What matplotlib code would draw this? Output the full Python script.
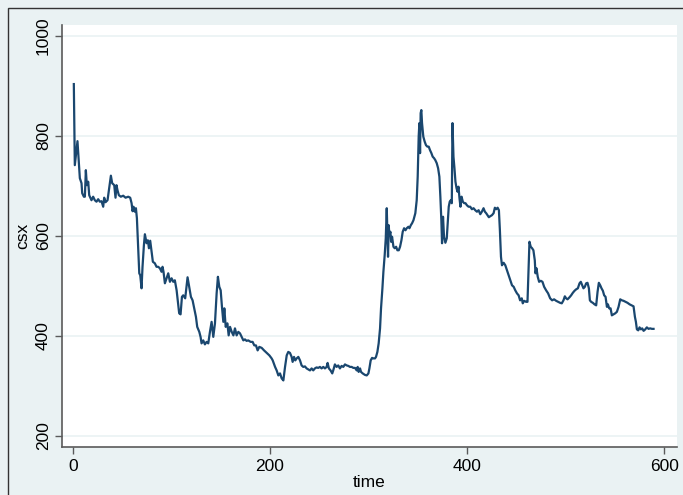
import numpy as np
import matplotlib.pyplot as plt
from matplotlib.patches import Rectangle

# values (time, csx)
time = [1, 2, 4.7, 7.1, 8.8, 9.5, 11.2, 12.2, 13.2, 14.2, 15.6, 16.6, 18.9, 20.6, 22.3, 24,
        25.7, 27.4, 29.1, 30.8, 31.8, 33.2, 35.2, 36.9, 38.6, 39.9, 42, 43.3, 44.3, 45.3,
        46.7, 48.7, 51.1, 53.5, 56.2, 58.2, 59.6, 60.6, 61.6, 62.9, 64, 65, 66.3, 67.4,
        68.4, 69.7, 70.7, 72.1, 73.1, 74.8, 76.1, 77.2, 78.5, 79.9, 81.2, 83.2, 84.9, 86.6,
        88.3, 90, 91, 92, 93.4, 95.1, 96.8, 98.5, 100.2, 101.9, 103.5, 105.3, 107.9, 109.3,
        110.7, 112, 114, 116.4, 118.1, 119.8, 121.5, 123.2, 124.9, 126.2, 128.3, 129.6,
        130.6, 132.3, 134, 135.7, 137.4, 139.1, 140.8, 142.5, 144.2, 145.9, 147.2, 148.6,
        150, 151.3, 152.7, 153.7, 155.1, 156.8, 158.1, 159.5, 161.2, 162.9, 164.5, 166.2,
        167.9, 169.6, 171.3, 173, 174.6, 176.3, 178, 180.4, 182.4, 184.1, 185.8, 187.5,
        189.2, 191.6, 194, 196.7, 199.4, 201.7, 202.8, 205.2, 206.8, 208.5, 210.2, 211.9,
        213.6, 215.3, 217, 218.6, 220.3, 222, 223, 224.4, 225.7, 227.1, 228.8, 230.5, 232.1,
        233.8, 235.5, 237.2, 238.9, 240.6, 242.3, 243.9, 245.6, 247.3, 249, 250.7, 252.4,
        254.1, 255.8, 257.5, 258.5, 259.8, 261.5, 263.2, 264.2, 265.9, 267.6, 269.3, 271,
        272.7, 274.4, 276.1, 277.8, 279.5, 281.2, 282.9, 284.6, 286.3, 288, 289, 290, 291.4,
        292.4, 294.1, 296.4, 298.2, 299.9, 300.9, 302.2, 303.6, 304.9, 306.6, 307.6, 309,
        310.3, 311.7, 312.7, 314.1, 315.1, 316.4, 317.5, 318.5, 319.2, 319.8, 320.5, 321.2,
        322.2, 322.9, 323.9, 325.3, 326.6, 328, 329.3, 330.7, 332, 333.4, 334.7, 336.1,
        337.5, 338.8, 340.5, 341.5, 342.9, 344.2, 345.6, 347.5, 348.9, 349.9, 350.9, 351.6,
        352.3, 352.9, 353.6, 354.3, 355.6, 357, 358.3, 359.7, 361.1, 362.4, 363.8, 365.1,
        366.5, 367.8, 369.2, 370.6, 371.9, 372.9, 373.9, 374.6, 375.6, 376.6, 378, 379.4,
        380.4, 381.4, 382.4, 383.5, 384.5, 385.2, 386.2, 387.2, 388.2, 389.3, 390.3, 391.3,
        392.3, 393.3, 394.4, 395.7, 397.1, 398.4, 399.8, 401.5, 403.2, 404.9, 406.6, 408.3,
        410, 411.7, 413.4, 415, 416.7, 418.1, 419.4, 420.8, 422.1, 423.5, 425.2, 426.9,
        428.2, 429.6, 431, 432.3, 433.3, 434.4, 435.4, 437.1, 438.8, 440.5, 442.2, 443.9,
        445.6, 447.3, 448.9, 450.6, 452.3, 453.8, 455.5, 456.5, 457.9, 459.9, 461.3, 462.3,
        463.3, 464.6, 466, 467.3, 468.7, 469.4, 470.4, 471.7, 473.1, 474.8, 476.5, 478.2,
        480.2, 482.2, 484.3, 486.3, 488.3, 490.4, 492.4, 494.4, 496.1, 497.8, 499.2, 500.5,
        501.9, 503.9, 505.6, 507.3, 509, 510.7, 512.4, 514.1, 515.4, 516.8, 518.1, 519.5,
        520.8, 522.2, 523.6, 524.6, 525.9, 527.6, 529.3, 531, 532.4, 533.7, 535.1, 536.4,
        537.8, 539.1, 540.5, 541.9, 542.9, 544.2, 545.6, 546.9, 548.6, 550.3, 552, 553.7,
        555.4, 557.1, 558.8, 560.8, 562.8, 564.9, 566.9, 568.9, 570.3, 571.3, 572.3, 573.7,
        575, 576.4, 577.7, 579.1, 580.8, 582.4, 584.1, 585.8, 587.5, 589.2]
csx = [903, 741, 789, 715, 705, 685, 678, 678, 731, 701, 708, 681, 671, 678, 671, 668,
       673, 668, 669, 658, 676, 667, 671, 695, 720, 705, 701, 676, 701, 691,
       681, 678, 680, 676, 678, 676, 665, 649, 658, 648, 655, 635, 575, 525,
       521, 495, 538, 581, 603, 585, 591, 575, 590, 568, 548, 545, 538, 538,
       535, 528, 538, 528, 505, 515, 525, 508, 515, 508, 511, 491, 445, 443,
       478, 481, 475, 517, 498, 478, 471, 455, 438, 418, 408, 398,
       385, 391, 383, 388, 385, 408, 428, 398, 425, 485, 518, 498,
       491, 458, 428, 455, 418, 425, 401, 418, 408, 401, 415, 401,
       408, 405, 398, 391, 393, 390, 391, 388, 388, 381, 381, 371,
       378, 376, 371, 366, 361, 355, 351, 338, 331, 321, 325, 315,
       311, 338, 361, 368, 366, 358, 348, 358, 351, 355, 358, 351, 341,
       338, 339, 335, 333, 331, 335, 331, 335, 337, 336, 338, 335,
       338, 335, 338, 346, 335, 331, 325, 331, 343, 338, 341, 335,
       340, 338, 343, 341, 340, 338, 338, 336, 336, 331, 338, 328, 335,
       328, 325, 322, 321, 325, 335, 351, 356, 355, 355, 358, 368,
       385, 415, 455, 495, 528, 561, 595, 655, 601, 558, 621, 601,
       608, 588, 598, 578, 575, 578, 571, 571, 578, 591, 608, 615,
       611, 615, 618, 615, 621, 625, 631, 645, 671, 718, 798, 825,
       765, 845, 851, 825, 798, 788, 781, 778, 778, 771, 765, 758,
       755, 751, 745, 735, 718, 678, 631, 585, 638, 598, 586, 595,
       625, 658, 668, 671, 665, 825, 758, 735, 708, 695, 688, 698,
       675, 658, 678, 668, 665, 665, 661, 658, 658, 653, 655, 651,
       648, 651, 643, 648, 655, 648, 645, 641, 637, 639, 641, 645,
       656, 653, 656, 651, 611, 558, 541, 546, 541, 531, 521, 511,
       501, 498, 491, 485, 481, 471, 475, 465, 470, 468, 468, 531,
       588, 578, 575, 571, 551, 525, 535, 518, 508, 510, 508, 498,
       491, 485, 475, 471, 473, 470, 468, 466, 465, 471, 479, 475,
       473, 477, 481, 486, 490, 493, 495, 505, 508, 501, 495, 498,
       505, 506, 495, 471, 468, 466, 463, 461, 488, 506, 501, 495,
       490, 481, 478, 458, 463, 455, 455, 441, 443, 445, 448, 458,
       473, 471, 470, 468, 466, 463, 461, 459, 438, 428, 413, 411,
       417, 413, 415, 410, 413, 417, 414, 415, 414, 414]

xticks = [0, 200, 400, 600]
yticks = [200, 400, 600, 800, 1000]

bg = '#EAF2F3'
navy = '#1A476F'
axis_col = '#5a5a5a'

plt.rcParams['font.family'] = ['Liberation Sans', 'DejaVu Sans']

fig = plt.figure(figsize=(6.83, 4.95), dpi=100)
fig.patch.set_facecolor(bg)
# outer frame (only top/left visible in the crop)
fig.patches.append(Rectangle((8 / 683, -0.1), 1.2, (495 - 8) / 495 + 0.1,
                             transform=fig.transFigure, fill=False,
                             edgecolor='#333333', linewidth=1.0))

ax = fig.add_axes([62 / 683, 48 / 495, (677 - 62) / 683, (447 - 25) / 495])
ax.set_facecolor('white')
ax.plot(time, csx, color=navy, linewidth=1.6)

ax.set_xlim(-11, 613)
ax.set_ylim(178, 1021)
ax.set_xticks(xticks)
ax.set_yticks(yticks)
ax.grid(axis='y', color=bg, linewidth=1.2)
ax.set_axisbelow(True)

for s in ['top', 'right']:
    ax.spines[s].set_visible(False)
for s in ['left', 'bottom']:
    ax.spines[s].set_color(axis_col)
    ax.spines[s].set_linewidth(1.2)

ax.tick_params(axis='both', direction='out', length=5, width=1, color=axis_col,
               labelsize=12.5, labelcolor='black')
ax.tick_params(axis='y', pad=3)
plt.setp(ax.get_yticklabels(), rotation=90, va='center')

ax.set_xlabel('time', fontsize=12.5, labelpad=1)
ax.set_ylabel('csx', fontsize=12.5, labelpad=4)

fig.savefig('out.png', dpi=100, facecolor=bg)
